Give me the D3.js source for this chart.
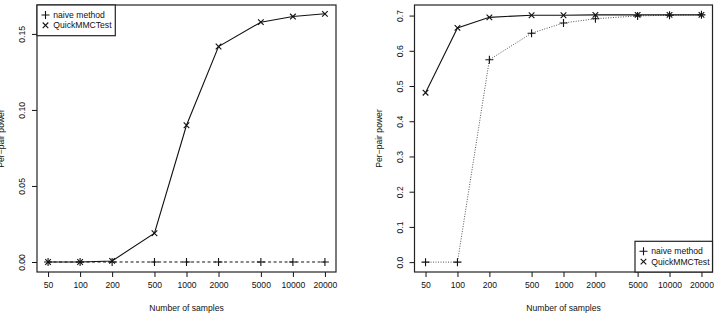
<!DOCTYPE html>
<html>
<head>
<meta charset="utf-8">
<script src="https://cdn.jsdelivr.net/npm/d3@7"></script>
<style>
  body { margin: 0; background: #fff; }
  svg { display: block; }
  text { font-family: "Liberation Sans", Arial, sans-serif; font-size: 8.6px; fill: #111; }
</style>
</head>
<body>
<svg id="chart" width="715" height="316"></svg>
<script>
// sample sizes on the x axis
const samples = [50, 100, 200, 500, 1000, 2000, 5000, 10000, 20000];

// left panel values
const leftNaive = [0, 0, 0, 0, 0, 0, 0, 0, 0];
const leftQuick = [0, 0, 0.0007, 0.0189, 0.0899, 0.1417, 0.1577, 0.1614, 0.1632];
const leftTicks = [0, 0.05, 0.10, 0.15];

// right panel values
const rightNaive = [0, 0, 0.5745, 0.650, 0.679, 0.691, 0.699, 0.701, 0.702];
const rightQuick = [0.481, 0.665, 0.695, 0.701, 0.701, 0.702, 0.702, 0.702, 0.702];
const rightTicks = [0, 0.1, 0.2, 0.3, 0.4, 0.5, 0.6, 0.7];

const seriesNames = ['naive method', 'QuickMMCTest'];

const svg = d3.select('#chart');

function drawPanel(opts) {
  const box = opts.box;
  const g = svg.append('g');

  // log x scale with R style 4% padding
  const lx = [Math.log10(samples[0]), Math.log10(samples[samples.length - 1])];
  const pad = (lx[1] - lx[0]) * 0.04;
  const x = d3.scaleLog()
    .domain([Math.pow(10, lx[0] - pad), Math.pow(10, lx[1] + pad)])
    .range([box.left, box.right]);

  const y = d3.scaleLinear()
    .domain(opts.yDomain)
    .range([box.bottom, box.top]);

  // x axis
  const xAxis = g.append('g')
    .attr('transform', `translate(0, ${box.bottom})`)
    .call(d3.axisBottom(x).tickValues(samples).tickFormat(d3.format('d')).tickSize(5).tickPadding(5).tickSizeOuter(0));
  xAxis.select('.domain').remove();
  xAxis.selectAll('line').attr('stroke', '#111');

  // y axis
  const yAxis = g.append('g')
    .attr('transform', `translate(${box.left}, 0)`)
    .call(d3.axisLeft(y).tickValues(opts.yTicks).tickFormat(d3.format(opts.yFormat)).tickSize(5).tickSizeOuter(0));
  yAxis.select('.domain').remove();
  yAxis.selectAll('line').attr('stroke', '#111');
  yAxis.selectAll('text')
    .attr('x', null).attr('dy', null)
    .attr('transform', (d) => `translate(${-14.6}, 0) rotate(-90)`)
    .attr('text-anchor', 'middle')
    .attr('dominant-baseline', 'central');

  // frame
  g.append('rect')
    .attr('x', box.left).attr('y', box.top)
    .attr('width', box.right - box.left).attr('height', box.bottom - box.top)
    .attr('fill', 'none').attr('stroke', '#222').attr('stroke-width', 1.2);

  // axis titles
  g.append('text')
    .attr('x', (box.left + box.right) / 2)
    .attr('y', 311)
    .attr('text-anchor', 'middle')
    .text('Number of samples');

  g.append('text')
    .attr('transform', `translate(${box.left - 36}, ${(box.top + box.bottom) / 2}) rotate(-90)`)
    .attr('text-anchor', 'middle')
    .attr('dominant-baseline', 'central')
    .text('Per\u2212pair power');

  const line = d3.line()
    .x((d, i) => x(samples[i]))
    .y((d) => y(d));

  // naive method
  g.append('path')
    .datum(opts.naive)
    .attr('d', line)
    .attr('fill', 'none')
    .attr('stroke', opts.naiveColor)
    .attr('stroke-width', 1)
    .attr('stroke-dasharray', opts.naiveDash);

  // QuickMMCTest
  g.append('path')
    .datum(opts.quick)
    .attr('d', line)
    .attr('fill', 'none')
    .attr('stroke', '#111')
    .attr('stroke-width', 1.1);

  const plus = (sel, s) => sel.append('path')
    .attr('d', `M${-s},0H${s}M0,${-s}V${s}`)
    .attr('stroke', '#111').attr('stroke-width', 1.1).attr('fill', 'none');
  const cross = (sel, s) => sel.append('path')
    .attr('d', `M${-s},${-s}L${s},${s}M${-s},${s}L${s},${-s}`)
    .attr('stroke', '#111').attr('stroke-width', 1.1).attr('fill', 'none');

  opts.naive.forEach((d, i) => {
    plus(g.append('g').attr('transform', `translate(${x(samples[i])}, ${y(d)})`), 4);
  });
  opts.quick.forEach((d, i) => {
    cross(g.append('g').attr('transform', `translate(${x(samples[i])}, ${y(d)})`), 2.8);
  });

  // legend
  const lg = opts.legend;
  g.append('rect')
    .attr('x', lg.x).attr('y', lg.y).attr('width', lg.w).attr('height', lg.h)
    .attr('fill', '#fff').attr('stroke', '#222').attr('stroke-width', 1.2);
  seriesNames.forEach((name, i) => {
    const cy = lg.y + 10 + i * 10.3;
    const mk = g.append('g').attr('transform', `translate(${lg.x + 8.5}, ${cy})`);
    if (i === 0) plus(mk, 4); else cross(mk, 2.8);
    g.append('text')
      .attr('x', lg.x + 16.3)
      .attr('y', cy)
      .attr('dominant-baseline', 'central')
      .text(name);
  });
}

drawPanel({
  box: { left: 37, right: 336, top: 5, bottom: 272 },
  yDomain: [-0.00658, 0.169],
  yTicks: leftTicks,
  yFormat: '.2f',
  naive: leftNaive,
  quick: leftQuick,
  naiveColor: '#111',
  naiveDash: '3,2.5',
  legend: { x: 37, y: 5, w: 78.3, h: 30.7 }
});

drawPanel({
  box: { left: 414.5, right: 712.5, top: 5, bottom: 272 },
  yDomain: [-0.028, 0.730],
  yTicks: rightTicks,
  yFormat: '.1f',
  naive: rightNaive,
  quick: rightQuick,
  naiveColor: '#555',
  naiveDash: '1,1.5',
  legend: { x: 635, y: 241.3, w: 77.5, h: 30.7 }
});
</script>
</body>
</html>
